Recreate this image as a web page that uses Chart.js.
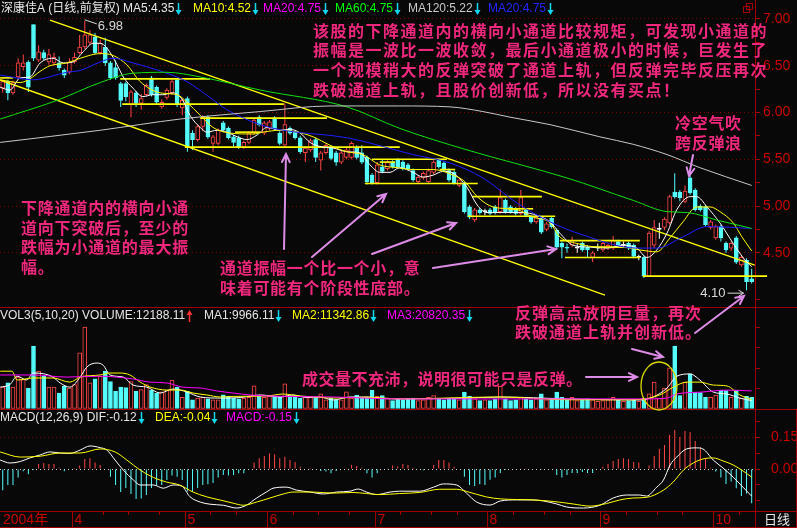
<!DOCTYPE html>
<html>
<head>
<meta charset="utf-8">
<script src="https://cdn.jsdelivr.net/npm/chart.js@4.4.1/dist/chart.umd.min.js"></script>
<style>
  html, body { margin: 0; padding: 0; background: #080808; }
  #box { position: relative; width: 797px; height: 528px; overflow: hidden; background: #080808; }
  #box canvas { position: absolute; left: 0; }
</style>
</head>
<body>
<div id="box">
  <canvas id="price" width="797" height="307" style="top:0px"></canvas>
  <canvas id="vol" width="797" height="102" style="top:307px"></canvas>
  <canvas id="macd" width="797" height="119" style="top:409px"></canvas>
  <canvas id="notes" width="797" height="528" style="top:0px"></canvas>
</div>
<script>
// daily candles, index 0 = mid March 2004
const open = [6.26,6.33,6.21,6.38,6.49,6.54,6.94,6.56,6.64,6.54, 6.53,6.53,6.45,6.43,6.54,6.64,6.70,6.75,6.81,6.64,
  6.70,6.53,6.48,6.31,6.31,6.08,6.21,6.10,6.19,6.37, 6.27,6.06,6.16,6.21,6.35,6.05,6.15,5.78,5.71,5.85,
  5.95,5.67,5.67,5.89,5.83,5.74,5.73,5.63,5.68,5.78, 5.95,5.78,5.83,5.94,5.78,5.65,5.83,5.79,5.73,5.57,
  5.60,5.71,5.49,5.57,5.62,5.57,5.47,5.52,5.52,5.63, 5.57,5.52,5.33,5.25,5.42,5.40,5.47,5.49,5.47,5.44,
  5.38,5.26,5.30,5.26,5.36,5.49,5.46,5.38,5.36,5.22, 5.24,4.99,4.85,4.96,4.94,4.96,4.99,4.94,5.06,4.99,
  4.97,4.92,4.96,4.88,4.83,4.87,4.75,4.87,4.74,4.60, 4.56,4.58,4.55,4.60,4.56,4.45,4.55,4.53,4.55,4.55,
  4.62,4.58,4.60,4.58,4.45,4.45,4.25,4.58,4.75,4.77, 4.82,5.15,5.15,5.05,5.30,5.17,5.00,4.99,4.77,4.66,
  4.78,4.60,4.55,4.66,4.37,4.42,4.22];
const high = [6.35,6.35,6.34,6.58,6.62,6.56,6.94,6.72,6.67,6.68, 6.64,6.60,6.47,6.58,6.64,6.83,6.98,6.88,6.85,6.78,
  6.80,6.55,6.56,6.33,6.33,6.24,6.23,6.20,6.31,6.39, 6.29,6.14,6.26,6.35,6.37,6.15,6.17,5.81,5.87,5.97,
  5.97,5.76,5.83,5.91,5.85,5.76,5.75,5.70,5.80,5.94, 5.97,5.91,5.92,5.96,5.80,6.10,5.85,5.81,5.75,5.64,
  5.72,5.73,5.59,5.67,5.64,5.59,5.59,5.62,5.69,5.65, 5.65,5.54,5.35,5.47,5.50,5.49,5.49,5.51,5.49,5.46,
  5.40,5.33,5.37,5.40,5.49,5.51,5.48,5.40,5.38,5.30, 5.26,5.01,4.98,4.98,4.97,4.98,5.01,5.18,5.08,5.01,
  4.99,5.17,4.98,4.90,4.90,4.89,4.83,4.89,4.76,4.62, 4.60,4.67,4.60,4.62,4.58,4.52,4.60,4.62,4.60,4.68,
  4.64,4.62,4.62,4.60,4.48,4.47,4.73,4.85,4.82,4.88, 5.12,5.35,5.17,5.22,5.33,5.19,5.02,5.01,4.85,4.80,
  4.80,4.62,4.62,4.68,4.48,4.44,4.33];
const low = [6.21,6.13,6.19,6.36,6.45,6.22,6.55,6.54,6.56,6.51, 6.50,6.45,6.37,6.41,6.52,6.62,6.68,6.72,6.62,6.62,
  6.50,6.35,6.35,6.06,6.12,5.95,6.06,6.03,6.17,6.17, 6.09,6.04,6.14,6.19,6.06,5.97,5.58,5.60,5.69,5.80,
  5.72,5.58,5.65,5.79,5.71,5.62,5.61,5.61,5.66,5.76, 5.85,5.76,5.81,5.81,5.65,5.63,5.76,5.71,5.56,5.47,
  5.58,5.47,5.38,5.55,5.49,5.43,5.45,5.50,5.50,5.50, 5.45,5.23,5.23,5.23,5.35,5.38,5.40,5.40,5.38,5.38,
  5.26,5.24,5.28,5.24,5.34,5.40,5.36,5.26,5.23,5.20, 4.92,4.86,4.83,4.91,4.90,4.90,4.91,4.92,4.92,4.92,
  4.90,4.90,4.88,4.81,4.81,4.70,4.73,4.76,4.54,4.44, 4.50,4.56,4.50,4.51,4.45,4.40,4.52,4.51,4.53,4.53,
  4.56,4.55,4.53,4.44,4.42,4.23,4.24,4.55,4.65,4.74, 4.80,5.08,5.05,5.03,5.12,4.94,4.94,4.78,4.75,4.64,
  4.62,4.50,4.52,4.38,4.35,4.10,4.17];
const close = [6.33,6.21,6.32,6.53,6.53,6.27,6.58,6.65,6.58,6.62, 6.59,6.48,6.40,6.54,6.59,6.70,6.83,6.83,6.64,6.74,
  6.53,6.37,6.37,6.13,6.17,6.22,6.10,6.15,6.29,6.19, 6.11,6.11,6.24,6.33,6.08,6.13,5.63,5.71,5.85,5.95,
  5.74,5.74,5.81,5.81,5.73,5.68,5.63,5.68,5.78,5.92, 5.87,5.89,5.90,5.83,5.67,5.87,5.78,5.73,5.58,5.62,
  5.70,5.52,5.57,5.65,5.51,5.47,5.57,5.60,5.67,5.52, 5.47,5.26,5.25,5.44,5.37,5.47,5.42,5.42,5.40,5.40,
  5.28,5.31,5.35,5.38,5.47,5.42,5.38,5.28,5.25,5.28, 4.94,4.88,4.96,4.93,4.94,4.92,4.93,5.09,4.94,4.94,
  4.92,5.09,4.90,4.83,4.88,4.72,4.81,4.78,4.56,4.56, 4.55,4.63,4.55,4.53,4.53,4.50,4.55,4.60,4.58,4.63,
  4.58,4.58,4.55,4.46,4.45,4.25,4.71,4.77,4.75,4.86, 5.10,5.10,5.09,5.16,5.14,4.96,4.96,4.80,4.83,4.78,
  4.66,4.53,4.60,4.40,4.45,4.19,4.19];
const volume = [26000,31000,26000,38000,35000,25000,75000,45000,39000,26000, 26000,19000,27000,25000,29000,67000,97600,31000,36000,39000,
  45000,32500,21000,26000,25500,32500,21000,23000,29000,22500, 19000,20500,22500,34500,26000,14000,21000,11000,13000,14000,
  12000,11000,11000,17000,15500,13000,12000,13000,14000,27500, 15500,14000,15000,14000,14000,30000,14000,14000,13000,15000,
  14000,14000,18000,11000,13000,11000,11000,20500,13000,16500, 14000,14000,22500,15000,16000,13000,10000,12000,11000,12000,
  13000,10000,11000,14000,16000,12000,11000,13000,12000,11000, 20000,15000,12000,10000,11000,10000,12000,27000,12000,10000,
  11000,14000,12000,11000,12000,18000,11000,13000,20000,14000, 11000,14000,10000,11000,12000,11000,9000,10000,11000,14000,
  11000,9000,10000,11000,9000,13000,18000,32000,13000,25000, 49000,75000,16000,32000,42000,20000,19500,14000,14000,16500,
  22500,22000,14000,22500,13000,15000,14000];
const macdHist = [-0.10,-0.075,-0.075,-0.04,-0.01,-0.025,-0.005,0.024,0.028,0.024, 0.024,0.006,-0.01,0.002,0.005,0.016,0.047,0.05,0.031,0.019,
  0.0,-0.036,-0.075,-0.108,-0.089,-0.117,-0.141,-0.138,-0.122,-0.089, -0.075,-0.075,-0.052,-0.031,-0.036,-0.052,-0.106,-0.108,-0.089,-0.075,
  -0.071,-0.066,-0.04,-0.028,-0.031,-0.028,-0.02,-0.02,0.002,0.03, 0.05,0.061,0.073,0.069,0.05,0.058,0.042,0.033,0.01,0.0,
  0.005,-0.002,-0.009,-0.012,-0.02,-0.009,0.0,0.003,0.019,0.014, 0.006,-0.02,-0.04,-0.02,-0.002,0.003,0.016,0.012,0.024,0.019,
  0.006,0.0,-0.006,0.0,0.019,0.042,0.042,0.031,0.01,0.0, -0.036,-0.075,-0.08,-0.071,-0.075,-0.05,-0.04,-0.019,-0.005,0.002,
  -0.002,0.004,0.003,0.0,0.002,-0.003,0.0,-0.002,-0.028,-0.04, -0.028,-0.019,-0.019,-0.014,-0.019,-0.019,0.0,0.01,0.024,0.038,
  0.047,0.05,0.047,0.033,0.03,0.002,0.016,0.061,0.094,0.113, 0.16,0.183,0.15,0.178,0.174,0.131,0.103,0.052,0.006,-0.012,
  -0.04,-0.07,-0.059,-0.09,-0.127,-0.115,-0.16];

// moving-average and indicator lines, read as [index, value]
const ma5 = [[-0.5,6.27],[1.4,6.24],[3.4,6.37],[5.3,6.38],[7.3,6.53],[9.8,6.58],[11.8,6.53],[13.7,6.54],[15.7,6.65],[17.6,6.74],[19,6.74],[20.3,6.69],[22.3,6.51],[23.5,6.38],[25.4,6.26],[27.3,6.17],[29.3,6.19],[31.2,6.19],[33.2,6.21],[35.1,6.13],[36.5,5.97],[38.5,5.84],[39.8,5.79],[41.8,5.81],[43.7,5.79],[45.7,5.74],[47.6,5.71],[49.6,5.76],[51.5,5.84],[54.1,5.81],[56,5.82],[58,5.78],[59.9,5.68],[62.4,5.63],[64.4,5.62],[67.1,5.58],[69.6,5.57],[71.6,5.44],[73.5,5.36],[75.5,5.36],[77.4,5.41],[80,5.36],[81.9,5.31],[83.9,5.33],[85.8,5.37],[87.8,5.35],[90.5,5.20],[92.5,5.01],[94.4,4.93],[98.3,4.93],[101.4,4.93],[104.1,4.90],[106.7,4.83],[108.6,4.71],[111.2,4.58],[114.5,4.56],[117.8,4.55],[120.9,4.58],[123.6,4.55],[125.6,4.45],[127.5,4.53],[129.5,4.71],[131.4,4.96],[134,5.10],[135.3,5.10],[137.3,4.99],[139.8,4.82],[142.4,4.60],[144.3,4.45],[146,4.35]];
const ma10 = [[-0.5,6.35],[3.4,6.32],[5.3,6.36],[7.3,6.44],[9.2,6.50],[12.5,6.53],[15.1,6.58],[19,6.63],[21.5,6.61],[24.2,6.51],[26.8,6.33],[30.7,6.21],[34,6.19],[35.9,6.11],[38.5,5.97],[41,5.84],[44.3,5.78],[48.8,5.77],[50.7,5.79],[54.1,5.81],[57.4,5.79],[60.5,5.74],[63.8,5.65],[67.1,5.58],[70.2,5.55],[73.5,5.44],[76.9,5.41],[80,5.39],[83.9,5.39],[87.8,5.33],[90.1,5.26],[92.5,5.10],[95.6,4.99],[100.3,4.96],[103.4,4.88],[106.7,4.82],[108.6,4.67],[111.9,4.60],[116.4,4.56],[120.9,4.56],[124.2,4.53],[127.5,4.51],[130.1,4.66],[132.6,4.83],[135.3,4.99],[137.9,4.99],[139.8,4.94],[142.4,4.82],[144.1,4.67],[146,4.52]];
const ma30 = [[-0.5,6.40],[5.9,6.35],[12.5,6.43],[15.1,6.45],[19,6.54],[21.5,6.58],[25.4,6.53],[32,6.42],[35.9,6.33],[40.4,6.16],[43.7,6.03],[50.2,5.87],[54.6,5.81],[67.1,5.73],[80,5.55],[87.2,5.46],[93.6,5.30],[100.3,5.03],[106.7,4.83],[113.1,4.69],[123.6,4.55],[127.5,4.55],[132.6,4.67],[137.3,4.78],[146,4.76]];
const ma60 = [[-0.5,5.93],[10.6,6.13],[19,6.32],[25.4,6.42],[32,6.43],[38.5,6.38],[50.2,6.24],[67.1,6.06],[77.4,5.83],[90.5,5.60],[110,5.30],[122.9,5.06],[129.5,4.94],[133.5,4.93],[139.2,4.85],[146,4.76]];
const ma120 = [[-0.5,5.68],[19,5.81],[34.6,5.93],[50.2,6.01],[63.8,6.07],[77.4,6.07],[87.2,6.06],[93.6,6.01],[98.9,5.95],[106.7,5.87],[116.4,5.74],[122.9,5.66],[129.5,5.55],[135.9,5.41],[146,5.22]];
const volMa5 = [[-0.5,26000],[1.4,29000],[2.8,39000],[4.7,34500],[5.9,42800],[7.9,42000],[9.8,38000],[11.2,31000],[13.1,26000],[15.1,38000],[16.4,50000],[18.4,54700],[19.6,52000],[20.9,40500],[23.5,38000],[25.4,28500],[28.1,26000],[30.7,19000],[33.2,23800],[35.9,20200],[38.5,14300],[42.4,13000],[46.3,13600],[50.2,16700],[54.1,14300],[56.6,16700],[59.3,13600],[61.8,14300],[64.4,10700],[67.7,14300],[71,14300],[74.1,12500],[77.4,12000],[90.5,13000],[97,14300],[110,12000],[124.2,10700],[126.8,14300],[129.5,25000],[131.4,39000],[134,41700],[135.9,34500],[138.5,20200],[141.2,17800],[143.7,13000],[146,10000]];
const volMa10 = [[-0.5,45000],[1.8,45000],[2.8,34500],[5.9,36900],[9.8,36900],[13.1,32000],[15.1,38000],[19,40500],[20.9,42800],[22.9,42800],[24.8,40500],[26.8,32000],[28.7,26200],[32,22600],[34.6,22600],[37.1,19000],[39.8,16700],[42.4,14300],[44.9,15000],[51.5,15500],[54.6,17800],[58,15500],[61.8,14000],[64.4,13000],[71,14000],[77.4,12000],[97,14300],[110,11000],[122.9,11000],[128.1,16700],[130.7,26000],[133.4,32000],[135.9,32000],[138.5,28500],[141.2,27400],[143.7,16700],[146,11300]];
const volMa20 = [[-0.5,40500],[5.9,40500],[12.5,38000],[19,39000],[25.4,35700],[28.7,32000],[32,31000],[35.1,26000],[38.5,25000],[41.8,21400],[44.9,19000],[48.2,16700],[51.5,15500],[64.4,14300],[77.4,12000],[116.4,12000],[125.6,12000],[129.5,13000],[131.4,17900],[135.9,20000],[141.2,22500],[146,21500]];
const dif = [[-0.5,0.042],[1.4,0.028],[3.4,0.035],[5.3,0.052],[7.3,0.066],[9.2,0.08],[11.2,0.075],[13.1,0.073],[15.1,0.089],[17,0.108],[19,0.10],[20.3,0.089],[21.9,0.042],[23.5,-0.005],[25.5,-0.052],[26.8,-0.075],[29.4,-0.075],[31.3,-0.09],[33.2,-0.075],[34.9,-0.08],[36.5,-0.13],[38.5,-0.155],[40.4,-0.165],[43,-0.17],[45.6,-0.183],[47.5,-0.17],[49.5,-0.136],[51.4,-0.108],[52.7,-0.09],[55.3,-0.085],[57.3,-0.099],[59.9,-0.108],[62.5,-0.117],[65.1,-0.108],[67.7,-0.104],[69.3,-0.094],[70.9,-0.108],[72.9,-0.12],[75.5,-0.108],[77.4,-0.104],[81.3,-0.104],[84,-0.085],[85.9,-0.07],[88.5,-0.075],[90.4,-0.113],[92.4,-0.155],[95,-0.169],[97,-0.15],[100.2,-0.145],[103.4,-0.145],[105.4,-0.15],[108,-0.164],[109.9,-0.178],[113.2,-0.183],[116.4,-0.17],[119,-0.136],[121.6,-0.122],[124.2,-0.122],[125.5,-0.127],[127.5,-0.085],[128.8,-0.052],[130.1,0.019],[131.4,0.056],[133.3,0.094],[135.2,0.099],[136.5,0.094],[138.5,0.042],[140.4,0.005],[142.4,-0.038],[144.3,-0.085],[146,-0.127]];
const dea = [[-0.5,0.08],[3.4,0.056],[7.3,0.06],[11.2,0.075],[15.1,0.075],[19,0.094],[21.9,0.08],[24.2,0.042],[26.8,-0.005],[29.4,-0.04],[31.9,-0.061],[34.5,-0.075],[37.1,-0.108],[39.7,-0.13],[42.3,-0.145],[44.9,-0.16],[46.9,-0.17],[49.5,-0.155],[52.1,-0.136],[54.7,-0.117],[56.6,-0.108],[60.5,-0.108],[64.4,-0.113],[68.3,-0.11],[70.9,-0.115],[73.5,-0.12],[77.4,-0.115],[81.3,-0.11],[85.2,-0.095],[88.5,-0.095],[90.4,-0.105],[94.3,-0.131],[97,-0.14],[103.4,-0.145],[107.3,-0.152],[111.2,-0.164],[114.5,-0.174],[117.7,-0.162],[120.3,-0.145],[122.9,-0.136],[125.5,-0.133],[128.8,-0.099],[130.7,-0.061],[132.7,-0.005],[134.6,0.028],[136.5,0.047],[138.5,0.052],[140.4,0.038],[142.4,0.019],[144.3,-0.009],[146,-0.038]];

// drawn channel lines: [fromIndex, toIndex, price] and [fromIndex, fromPrice, toIndex, toPrice]
const hLines = [[-0.5,2,6.37],[22.9,40.4,6.36],[23.3,54.8,6.09],[38.5,63.2,5.94],[35.5,77.4,5.63],[45.3,50.2,5.79],
  [72,86.6,5.50],[70.6,92.6,5.24],[73.5,76.5,5.47],[85.2,88.2,5.39],
  [91.5,105.1,5.10],[90.7,107.7,4.89],[98.5,103.4,4.97],
  [108.6,124.2,4.63],[109.6,124.2,4.45],[115,121,4.56],[124.8,149,4.25]];
const trendLines = [[9.2,6.989,146.6,4.369],[-0.53,6.348,117.4,4.048]];

// time axis
const yearLabel = '2004年';
const monthStart = [14, 36, 52, 73, 95, 117, 139];
const monthLabel = ['4', '5', '6', '7', '8', '9', '10'];
const weekStart = [20, 25, 31, 41, 46, 57, 62, 68, 78, 84, 89, 100, 106, 111, 122, 128, 133, 144];

const BG = '#080808', RED = '#FF4646', CYAN = '#54FCFC', WHITE = '#FFFFFF';
const FRAME = '#A00000', AXTXT = '#C80000', DOT = '#800000';
const PINK = '#F0287D', VIOLET = '#DC8CE6';

const idx = open.map((_, i) => i);
const candleColor = i => close[i] > open[i] ? RED : close[i] < open[i] ? CYAN : WHITE;
const pts = arr => arr.map(([x, y]) => ({ x, y }));
const xAxis = () => ({ type: 'linear', min: -0.53, max: 146.65, display: false, offset: false });

function rightAxis(min, max, step, showLabel, showGrid, gridColor, fmt, size, pad) {
  return {
    position: 'right', min, max,
    afterFit: s => { s.width = 42; s.paddingTop = 0; s.paddingBottom = 0; },
    ticks: { stepSize: step, includeBounds: false, autoSkip: false, padding: pad, color: AXTXT,
      font: { family: 'Liberation Sans', size }, callback: v => showLabel(v) ? fmt(v) : '' },
    grid: { color: c => (c.tick && showGrid(c.tick.value)) ? gridColor(c.tick.value) : 'rgba(0,0,0,0)',
      tickColor: FRAME, tickLength: 5, lineWidth: 1, tickBorderDash: [] },
    border: { display: true, color: FRAME, width: 1, dash: [1, 3] }
  };
}

function options(yCfg, padBottom) {
  return {
    responsive: false, animation: false, events: [], devicePixelRatio: 1,
    layout: { padding: { top: 0, left: 0, right: 0, bottom: padBottom } },
    plugins: { legend: { display: false }, tooltip: { enabled: false } },
    scales: { x: xAxis(), y: yCfg }
  };
}

const maLine = (arr, color) => ({ type: 'line', data: pts(arr), borderColor: color, borderWidth: 1,
  pointRadius: 0, cubicInterpolationMode: 'monotone', order: 0 });
const seg = (a, pa, b, pb, w) => ({ type: 'line', data: [{ x: a, y: pa }, { x: b, y: pb }],
  borderColor: '#FFFF00', borderWidth: w, pointRadius: 0, order: 1, clip: { left: 2, top: 2, right: 14, bottom: 2 } });

// highest / lowest price marks
const extremes = {
  id: 'extremes',
  afterDatasetsDraw(chart) {
    const { ctx, scales: { x, y } } = chart;
    const hi = Math.max(...high), lo = Math.min(...low);
    ctx.save();
    ctx.strokeStyle = '#D8D8D8'; ctx.fillStyle = '#D8D8D8'; ctx.lineWidth = 1;
    ctx.font = '13px "Liberation Sans"'; ctx.textBaseline = 'middle';
    let px = x.getPixelForValue(high.indexOf(hi)), py = y.getPixelForValue(hi);
    ctx.beginPath(); ctx.moveTo(px, py - 1); ctx.lineTo(px + 3, py); ctx.lineTo(px + 12, py + 3); ctx.stroke();
    ctx.fillText(hi.toFixed(2), px + 13, py + 6);
    px = x.getPixelForValue(low.indexOf(lo)); py = y.getPixelForValue(lo);
    ctx.textAlign = 'right';
    ctx.fillText(lo.toFixed(2), px - 21, py + 3);
    ctx.beginPath(); ctx.moveTo(px - 19, py + 3); ctx.lineTo(px - 3, py + 3);
    ctx.moveTo(px - 8, py); ctx.lineTo(px - 3, py + 3); ctx.lineTo(px - 8, py + 6); ctx.stroke();
    ctx.restore();
  }
};

new Chart(document.getElementById('price'), {
  type: 'bar',
  data: { datasets: [
    { data: idx.map(i => ({ x: i, y: [low[i], high[i]] })), backgroundColor: idx.map(candleColor),
      barThickness: 1, inflateAmount: 0, grouped: false, order: 6 },
    { data: idx.map(i => ({ x: i, y: [Math.min(open[i], close[i]), Math.max(open[i], close[i])] })),
      backgroundColor: idx.map(i => close[i] > open[i] ? BG : candleColor(i)), borderColor: idx.map(candleColor),
      borderWidth: 1, borderSkipped: false, barThickness: 4, minBarLength: 1, grouped: false, order: 5 },
    ...hLines.map(([a, b, p]) => seg(a, p, b, p, 1.6)),
    ...trendLines.map(([a, pa, b, pb]) => seg(a, pa, b, pb, 1.3)),
    maLine(ma120, '#C8C8C8'), maLine(ma60, '#10E010'), maLine(ma30, '#1E1EFF'),
    maLine(ma10, '#FFFF00'), maLine(ma5, '#FFFFFF')
  ] },
  options: options(rightAxis(3.92, 7.203, 0.25,
    v => Math.abs(v * 2 - Math.round(v * 2)) < 1e-6 && v >= 4.5,
    v => Math.abs(v * 2 - Math.round(v * 2)) < 1e-6 && v >= 4.5,
    () => DOT, v => v.toFixed(2), 14, 3), 0),
  plugins: [extremes]
});

new Chart(document.getElementById('vol'), {
  type: 'bar',
  data: { datasets: [
    { data: idx.map(i => ({ x: i, y: volume[i] })),
      backgroundColor: idx.map(i => close[i] < open[i] ? CYAN : BG), borderColor: idx.map(i => close[i] < open[i] ? CYAN : RED),
      borderWidth: 1, borderSkipped: false, barThickness: 4, grouped: false, order: 5 },
    maLine(volMa20, '#FF00FF'), maLine(volMa10, '#FFFF00'), maLine(volMa5, '#FFFFFF')
  ] },
  options: options(rightAxis(0, 121400, 25000,
    v => v > 0 && v % 50000 === 0, v => v === 50000, () => DOT, v => String(v), 12, 1), 0)
});

const timeAxis = {
  id: 'timeAxis',
  afterDraw(chart) {
    const { ctx, chartArea: ca, scales: { x } } = chart;
    const top = ca.bottom, bot = chart.height;
    ctx.save();
    ctx.strokeStyle = FRAME; ctx.lineWidth = 1; ctx.fillStyle = AXTXT;
    ctx.font = '14px "Liberation Sans", "Noto Sans CJK SC"'; ctx.textBaseline = 'middle';
    ctx.fillText(yearLabel, 3, top + 9);
    monthStart.forEach((m, k) => {
      const px = Math.round(x.getPixelForValue(m - 0.5)) + 0.5;
      ctx.beginPath(); ctx.moveTo(px, top); ctx.lineTo(px, bot); ctx.stroke();
      ctx.fillText(monthLabel[k], px + 2, top + 9);
    });
    weekStart.forEach(w => {
      const px = Math.round(x.getPixelForValue(w - 0.5)) + 0.5;
      ctx.beginPath(); ctx.moveTo(px, top); ctx.lineTo(px, top + 4); ctx.stroke();
    });
    ctx.restore();
  }
};

new Chart(document.getElementById('macd'), {
  type: 'bar',
  data: { datasets: [
    { data: idx.map(i => ({ x: i, y: macdHist[i] })), backgroundColor: idx.map(i => macdHist[i] >= 0 ? RED : CYAN),
      barThickness: 1, inflateAmount: 0, grouped: false, order: 5 },
    maLine(dea, '#FFFF00'), maLine(dif, '#FFFFFF')
  ] },
  options: options(rightAxis(-0.1969, 0.2813, 0.075,
    v => Math.abs(v) < 1e-6 || Math.abs(v - 0.15) < 1e-6,
    v => Math.abs(v) < 1e-6 || Math.abs(v - 0.15) < 1e-6,
    v => Math.abs(v) < 1e-6 ? '#D8D8D8' : DOT, v => Math.abs(v) < 1e-6 ? '0.00' : v.toFixed(2), 14, 11), 17),
  plugins: [timeAxis]
});

// ---- frames, headers, notes ----
const g = document.getElementById('notes').getContext('2d');
g.strokeStyle = FRAME; g.lineWidth = 1;
[307.5, 409.5, 511.5, 527.5].forEach(y => { g.beginPath(); g.moveTo(0, y); g.lineTo(797, y); g.stroke(); });
[[755.5, 511, 528], [796.5, 409, 528]].forEach(([x, a, b]) => { g.beginPath(); g.moveTo(x, a); g.lineTo(x, b); g.stroke(); });
g.strokeRect(743.5, 6.5, 6, 6); g.strokeRect(746.5, 3.5, 6, 6);

function headArrow(x, y, dir) {
  const c = dir === 'up' ? '#FF3030' : '#10D8F0';
  g.strokeStyle = c; g.fillStyle = c; g.lineWidth = 1.5;
  g.beginPath();
  if (dir === 'up') { g.moveTo(x, y - 2); g.lineTo(x, y + 6); } else { g.moveTo(x, y - 6); g.lineTo(x, y + 2); }
  g.stroke();
  g.beginPath();
  if (dir === 'up') { g.moveTo(x - 3, y - 1); g.lineTo(x + 3, y - 1); g.lineTo(x, y - 6); }
  else { g.moveTo(x - 3, y + 1); g.lineTo(x + 3, y + 1); g.lineTo(x, y + 6); }
  g.fill();
}
function header(y, items) {
  items.forEach(([txt, x, color, dir]) => {
    g.font = '12px "Liberation Sans", "Noto Sans CJK SC"'; g.textBaseline = 'middle';
    g.fillStyle = color; g.fillText(txt, x, y);
    if (dir) headArrow(Math.round(x + g.measureText(txt).width + 4) + 0.5, y, dir);
  });
}
header(9, [['深康佳A (日线,前复权)', 1, '#E6E6E6'], ['MA5:4.35', 123, '#E6E6E6', 'down'], ['MA10:4.52', 193, '#FFFF00', 'down'],
  ['MA20:4.75', 263, '#FF00FF', 'down'], ['MA60:4.75', 335, '#00FF00', 'down'], ['MA120:5.22', 408, '#C8C8C8', 'down'],
  ['MA20:4.75', 488, '#2424FF', 'down']]);
header(316, [['VOL3(5,10,20) VOLUME:12188.11', 0, '#E6E6E6', 'up'], ['MA1:9966.11', 204, '#E6E6E6', 'down'],
  ['MA2:11342.86', 292, '#FFFF00', 'down'], ['MA3:20820.35', 387, '#FF00FF', 'down']]);
header(418, [['MACD(12,26,9) DIF:-0.12', 0, '#E6E6E6', 'down'], ['DEA:-0.04', 155, '#FFFF00', 'down'],
  ['MACD:-0.15', 226, '#FF00FF', 'down']]);
g.fillStyle = '#E6E6E6'; g.font = '13px "Noto Sans CJK SC"'; g.textBaseline = 'middle';
g.fillText('日线', 764, 519.5);

const notes = [
  { x: 313, y: 30.5, lh: 19.8, adv: 17.5, lines: ['该股的下降通道内的横向小通道比较规矩，可发现小通道的',
    '振幅是一波比一波收敛，最后小通道极小的时候，巨发生了', '一个规模稍大的反弹突破了通道上轨，但反弹完毕反压再次',
    '跌破通道上轨，且股价创新低，所以没有买点！'] },
  { x: 21, y: 208, lh: 19.7, adv: 16.8, lines: ['下降通道内的横向小通', '道向下突破后，至少的', '跌幅为小通道的最大振', '幅。'] },
  { x: 220, y: 268, lh: 20, adv: 16.7, lines: ['通道振幅一个比一个小，意', '味着可能有个阶段性底部。'] },
  { x: 675, y: 123, lh: 20, adv: 16.7, lines: ['冷空气吹', '跨反弹浪'] },
  { x: 515, y: 313, lh: 19, adv: 17, lines: ['反弹高点放阴巨量，再次', '跌破通道上轨并创新低。'] },
  { x: 302, y: 379, lh: 20, adv: 16.5, lines: ['成交量不充沛，说明很可能只是反弹。'] }
];
g.fillStyle = PINK; g.font = 'bold 16px "Noto Sans CJK SC"'; g.textBaseline = 'middle';
notes.forEach(n => n.lines.forEach((s, r) => [...s].forEach((ch, k) => g.fillText(ch, n.x + k * n.adv, n.y + r * n.lh))));

const pointers = [[284, 249, 286, 154], [312, 257, 386, 194], [372, 254, 456, 223], [433, 268, 556, 249],
  [693, 155, 689, 176], [695, 333, 744, 296], [586, 377, 637, 377], [632, 349, 663, 357]];
g.strokeStyle = VIOLET; g.lineWidth = 2; g.lineCap = 'round';
pointers.forEach(([x1, y1, x2, y2]) => {
  const a = Math.atan2(y2 - y1, x2 - x1);
  g.beginPath(); g.moveTo(x1, y1); g.lineTo(x2, y2);
  g.moveTo(x2 - 9 * Math.cos(a - 0.45), y2 - 9 * Math.sin(a - 0.45)); g.lineTo(x2, y2);
  g.lineTo(x2 - 9 * Math.cos(a + 0.45), y2 - 9 * Math.sin(a + 0.45));
  g.stroke();
});
g.strokeStyle = '#D8D800'; g.lineWidth = 1.3;
g.beginPath(); g.ellipse(659, 386, 18, 24, 0, 0, Math.PI * 2); g.stroke();
</script>
</body>
</html>
